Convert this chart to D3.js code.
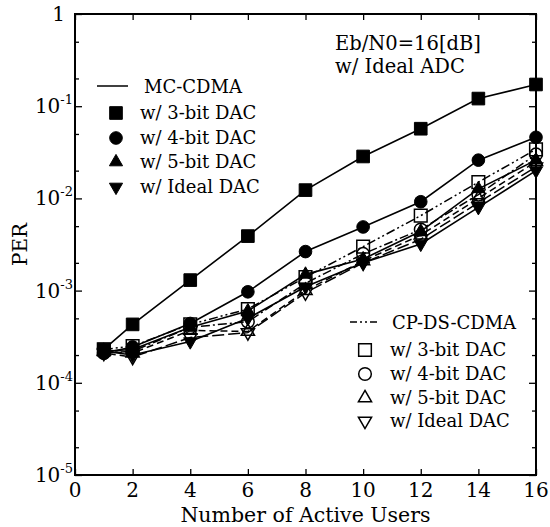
<!DOCTYPE html>
<html><head><meta charset="utf-8">
<script src="https://cdn.jsdelivr.net/npm/d3@7"></script>
<style>body{margin:0;background:#fff}svg{display:block}text{font-family:"DejaVu Serif",serif;fill:#000}</style>
</head><body><svg id="c" width="550" height="527"></svg>
<script>
const users = [1, 2, 4, 6, 8, 10, 12, 14, 16];
const mc3 = [2.3e-4, 4.3e-4, 1.3e-3, 3.9e-3, 1.23e-2, 2.85e-2, 5.7e-2, 0.121, 0.172];
const mc4 = [2.1e-4, 2.45e-4, 4.4e-4, 9.7e-4, 2.65e-3, 4.9e-3, 9.2e-3, 2.6e-2, 4.6e-2];
const mc5 = [2.2e-4, 2.3e-4, 4.0e-4, 6.0e-4, 1.5e-3, 2.2e-3, 4.4e-3, 1.27e-2, 2.6e-2];
const mcI = [2.2e-4, 2.0e-4, 2.8e-4, 5.0e-4, 1.1e-3, 2.0e-3, 3.2e-3, 8.0e-3, 2.0e-2];
const cp3 = [2.3e-4, 2.5e-4, 4.3e-4, 6.3e-4, 1.4e-3, 3.0e-3, 6.5e-3, 1.5e-2, 3.4e-2];
const cp4 = [2.1e-4, 2.2e-4, 4.0e-4, 4.6e-4, 1.2e-3, 2.5e-3, 4.6e-3, 1.1e-2, 3.0e-2];
const cp5 = [2.2e-4, 2.1e-4, 3.7e-4, 3.6e-4, 1.0e-3, 2.1e-3, 4.0e-3, 1.0e-2, 2.5e-2];
const cpI = [2.1e-4, 1.9e-4, 3.1e-4, 3.5e-4, 9.5e-4, 2.0e-3, 3.6e-3, 9.0e-3, 2.2e-2];
const xTicks = [0, 2, 4, 6, 8, 10, 12, 14, 16];
const yTicks = [1e-5, 1e-4, 1e-3, 1e-2, 1e-1, 1];
const yLabels = ["-5", "-4", "-3", "-2", "-1", ""];
const legendMC = ["w/ 3-bit DAC", "w/ 4-bit DAC", "w/ 5-bit DAC", "w/ Ideal DAC"];

const svg = d3.select("#c");
const L = 75, R = 536, T = 14, B = 475;
const x = d3.scaleLinear().domain([0, 16]).range([L, R]);
const y = d3.scaleLog().domain([1e-5, 1]).range([B, T]);

const minor = [];
for (let e = -5; e < 0; e++) { minor.push(2 * Math.pow(10, e), 5 * Math.pow(10, e)); }

const g = svg.append("g");
g.append("g").attr("transform", `translate(0,${B})`).call(d3.axisTop(x).tickValues(xTicks).tickSize(6).tickFormat(""));
g.append("g").attr("transform", `translate(0,${T})`).call(d3.axisBottom(x).tickValues(xTicks).tickSize(6).tickFormat(""));
g.append("g").attr("transform", `translate(${L},0)`).call(d3.axisRight(y).tickValues(yTicks).tickSize(7).tickFormat(""));
g.append("g").attr("transform", `translate(${R},0)`).call(d3.axisLeft(y).tickValues(yTicks).tickSize(7).tickFormat(""));
g.append("g").attr("transform", `translate(${L},0)`).call(d3.axisRight(y).tickValues(minor).tickSize(4).tickFormat(""));
g.append("g").attr("transform", `translate(${R},0)`).call(d3.axisLeft(y).tickValues(minor).tickSize(4).tickFormat(""));
g.selectAll(".domain").remove();
g.selectAll("line").attr("stroke", "#000").attr("stroke-width", 1.3);
svg.append("rect").attr("x", L).attr("y", T).attr("width", R - L).attr("height", B - T)
  .attr("fill", "none").attr("stroke", "#000").attr("stroke-width", 2);

svg.selectAll(".xl").data(xTicks).join("text").attr("x", d => x(d)).attr("y", B + 22)
  .attr("text-anchor", "middle").attr("font-size", 20).text(d => d);
yTicks.forEach((v, i) => {
  if (v === 1) {
    svg.append("text").attr("x", 65).attr("y", y(v) + 7).attr("text-anchor", "end").attr("font-size", 20).text("1");
  } else {
    const t = svg.append("text").attr("x", 73).attr("y", y(v) + 7).attr("text-anchor", "end").attr("font-size", 20);
    t.append("tspan").text("10");
    t.append("tspan").attr("dy", -9).attr("font-size", 13).text(yLabels[i]);
  }
});
svg.append("text").attr("x", (L + R) / 2).attr("y", 522).attr("text-anchor", "middle").attr("font-size", 20.5).text("Number of Active Users");
svg.append("text").attr("transform", `translate(27,${(T + B) / 2}) rotate(-90)`).attr("text-anchor", "middle").attr("font-size", 20).text("PER");

const sq = d3.symbol().type(d3.symbolSquare).size(160);
const ci = d3.symbol().type(d3.symbolCircle).size(125);
const tri = d3.symbol().type(d3.symbolTriangle).size(75);
function marker(sel, kind, filled) {
  const p = sel.append("path").attr("d", kind === "circle" ? ci() : kind === "square" ? sq() : tri())
    .attr("fill", filled ? "#000" : "none").attr("stroke", "#000").attr("stroke-width", filled ? 1 : 1.5);
  if (kind === "down") p.attr("transform", "rotate(180)");
  return p;
}

const line = d3.line().x((d, i) => x(users[i])).y(d => y(d));
const cpSeries = [
  { v: cp3, k: "square", dash: "9,3,2,3,2,3" },
  { v: cp4, k: "circle", dash: "9,3,2,3" },
  { v: cp5, k: "up", dash: "7,4" },
  { v: cpI, k: "down", dash: "12,4" }
];
const mcSeries = [
  { v: mc3, k: "square" }, { v: mc4, k: "circle" }, { v: mc5, k: "up" }, { v: mcI, k: "down" }
];
cpSeries.forEach(s => {
  svg.append("path").attr("d", line(s.v)).attr("fill", "none").attr("stroke", "#000").attr("stroke-width", 1.5).attr("stroke-dasharray", s.dash);
});
mcSeries.forEach(s => {
  svg.append("path").attr("d", line(s.v)).attr("fill", "none").attr("stroke", "#000").attr("stroke-width", 1.6);
});
cpSeries.forEach(s => {
  s.v.forEach((v, i) => { marker(svg.append("g").attr("transform", `translate(${x(users[i])},${y(v)})`), s.k, false); });
});
mcSeries.forEach(s => {
  s.v.forEach((v, i) => { marker(svg.append("g").attr("transform", `translate(${x(users[i])},${y(v)})`), s.k, true); });
});

svg.append("text").attr("x", 335).attr("y", 50).attr("font-size", 19.5).text("Eb/N0=16[dB]");
svg.append("text").attr("x", 335).attr("y", 73).attr("font-size", 19.5).text("w/ Ideal ADC");

svg.append("line").attr("x1", 97).attr("x2", 128).attr("y1", 86).attr("y2", 86).attr("stroke", "#000").attr("stroke-width", 1.5);
svg.append("text").attr("x", 144).attr("y", 93).attr("font-size", 18).text("MC-CDMA");
const kinds = ["square", "circle", "up", "down"];
const mcRows = [113, 138, 162, 187];
kinds.forEach((k, i) => {
  const yy = mcRows[i];
  marker(svg.append("g").attr("transform", `translate(116,${yy})`), k, true);
  svg.append("text").attr("x", 140).attr("y", yy + 6).attr("font-size", 18).text(legendMC[i]);
});
svg.append("line").attr("x1", 350).attr("x2", 380).attr("y1", 322).attr("y2", 322).attr("stroke", "#000").attr("stroke-width", 1.5).attr("stroke-dasharray", "7,3,2,3,2,3");
svg.append("text").attr("x", 392).attr("y", 329).attr("font-size", 18).text("CP-DS-CDMA");
const cpRows = [350, 374, 398, 421];
kinds.forEach((k, i) => {
  const yy = cpRows[i];
  marker(svg.append("g").attr("transform", `translate(365,${yy})`), k, false);
  svg.append("text").attr("x", 390).attr("y", yy + 6).attr("font-size", 18).text(legendMC[i]);
});
</script></body></html>
